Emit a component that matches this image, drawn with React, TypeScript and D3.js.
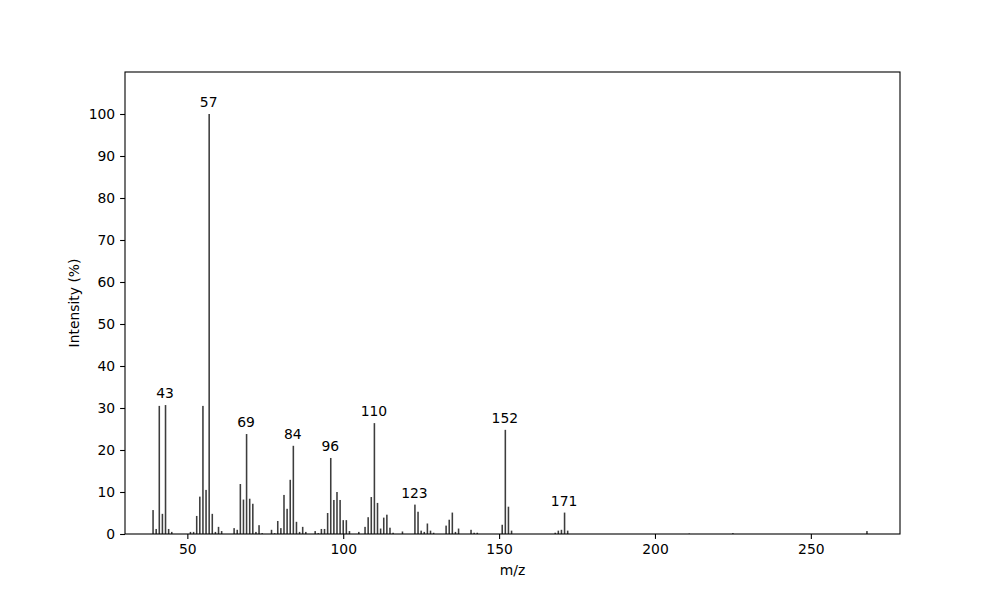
// @ts-nocheck
import { useRef, useEffect } from "react";
import * as d3 from "d3";

const mz = [
  39, 40, 41, 42, 43, 44, 45, 51, 52, 53, 54, 55, 56, 57, 58, 59, 60, 61, 65, 66,
  67, 68, 69, 70, 71, 72, 73, 74, 77, 78, 79, 80, 81, 82, 83, 84, 85, 86, 87, 88,
  91, 92, 93, 94, 95, 96, 97, 98, 99, 100, 101, 102, 105, 107, 108, 109, 110, 111,
  112, 113, 114, 115, 116, 119, 123, 124, 125, 126, 127, 128, 129, 133, 134, 135,
  136, 137, 141, 142, 143, 151, 152, 153, 154, 168, 169, 170, 171, 172, 211, 225,
  268,
];
const intensity = [
  5.7, 1.2, 30.5, 4.8, 30.7, 1.2, 0.5, 0.5, 0.5, 4.3, 8.9, 30.5, 10.5, 100, 4.8,
  0.5, 1.7, 0.7, 1.4, 1.0, 11.9, 8.2, 23.8, 8.4, 7.2, 0.5, 2.1, 0.2, 1.0, 0.2, 3.1,
  1.4, 9.3, 6.0, 12.9, 21.0, 2.9, 0.5, 1.7, 0.5, 0.7, 0.2, 1.2, 1.2, 5.0, 18.1,
  8.1, 10.0, 8.1, 3.3, 3.3, 0.7, 0.5, 1.7, 4.0, 8.8, 26.4, 7.4, 1.3, 3.9, 4.6, 1.5,
  0.3, 0.6, 7.0, 5.3, 0.8, 0.5, 2.5, 0.8, 0.3, 2.0, 3.4, 5.1, 0.5, 1.3, 1.0, 0.3,
  0.3, 2.2, 24.8, 6.5, 0.8, 0.3, 0.8, 1.0, 5.1, 0.8, 0.1, 0.2, 0.7,
];
const labelledPeaks = [43, 57, 69, 84, 96, 110, 123, 152, 171];
const xTicks = [50, 100, 150, 200, 250];
const yTicks = [0, 10, 20, 30, 40, 50, 60, 70, 80, 90, 100];

const Spectrum = ({ width = 1000, height = 600 }) => {
  const svgRef = useRef();

  useEffect(() => {
    const svg = d3.select(svgRef.current);
    svg.selectAll("*").remove();

    const margin = { top: 72, right: 100, bottom: 66, left: 125 };
    const w = width - margin.left - margin.right;
    const h = height - margin.top - margin.bottom;
    const data = mz.map((m, i) => ({ m, v: intensity[i] }));

    const x = d3.scaleLinear().domain([30, 278.6]).range([0, w]);
    const y = d3.scaleLinear().domain([0, 110]).range([h, 0]);
    const barW = x(30.5) - x(30);

    svg.attr("width", width).attr("height", height).style("font-family", "DejaVu Sans");

    const g = svg.append("g").attr("transform", `translate(${margin.left},${margin.top})`);

    g.selectAll(".bar")
      .data(data)
      .enter()
      .append("rect")
      .attr("class", "bar")
      .attr("x", (d) => x(d.m) - barW / 2)
      .attr("y", (d) => y(d.v))
      .attr("width", barW)
      .attr("height", (d) => h - y(d.v))
      .attr("fill", "#3d3d3d");

    // etiquetas de picos
    g.selectAll(".peak")
      .data(data.filter((d) => labelledPeaks.includes(d.m)))
      .enter()
      .append("text")
      .attr("x", (d) => x(d.m) - 0.5)
      .attr("y", (d) => y(d.v) - 7)
      .attr("text-anchor", "middle")
      .attr("font-size", 13.9)
      .attr("fill", "#000")
      .text((d) => d.m);

    const xAxis = g
      .append("g")
      .attr("transform", `translate(0,${h})`)
      .call(d3.axisBottom(x).tickValues(xTicks).tickSize(4.9).tickPadding(4.9).tickFormat(d3.format("d")));
    const yAxis = g
      .append("g")
      .call(d3.axisLeft(y).tickValues(yTicks).tickSize(4.9).tickPadding(4.9).tickFormat(d3.format("d")));

    [xAxis, yAxis].forEach((a) => {
      a.select(".domain").remove();
      a.selectAll(".tick text").attr("font-size", 13.9).attr("font-family", "DejaVu Sans").attr("fill", "#000");
      a.selectAll(".tick line").attr("stroke", "#000").attr("stroke-width", 1.1);
    });

    g.append("rect")
      .attr("width", w)
      .attr("height", h)
      .attr("fill", "none")
      .attr("stroke", "#000")
      .attr("stroke-width", 1.1);

    svg
      .append("text")
      .attr("x", margin.left + w / 2)
      .attr("y", 575)
      .attr("text-anchor", "middle")
      .attr("font-size", 13.9)
      .text("m/z");

    svg
      .append("text")
      .attr("transform", `translate(79,${margin.top + h / 2}) rotate(-90)`)
      .attr("text-anchor", "middle")
      .attr("font-size", 13.9)
      .text("Intensity (%)");
  }, []);

  return <svg ref={svgRef}></svg>;
};

export default function App() {
  return (
    <div style={{ position: "absolute", left: 0, top: 0 }}>
      <Spectrum />
    </div>
  );
}
